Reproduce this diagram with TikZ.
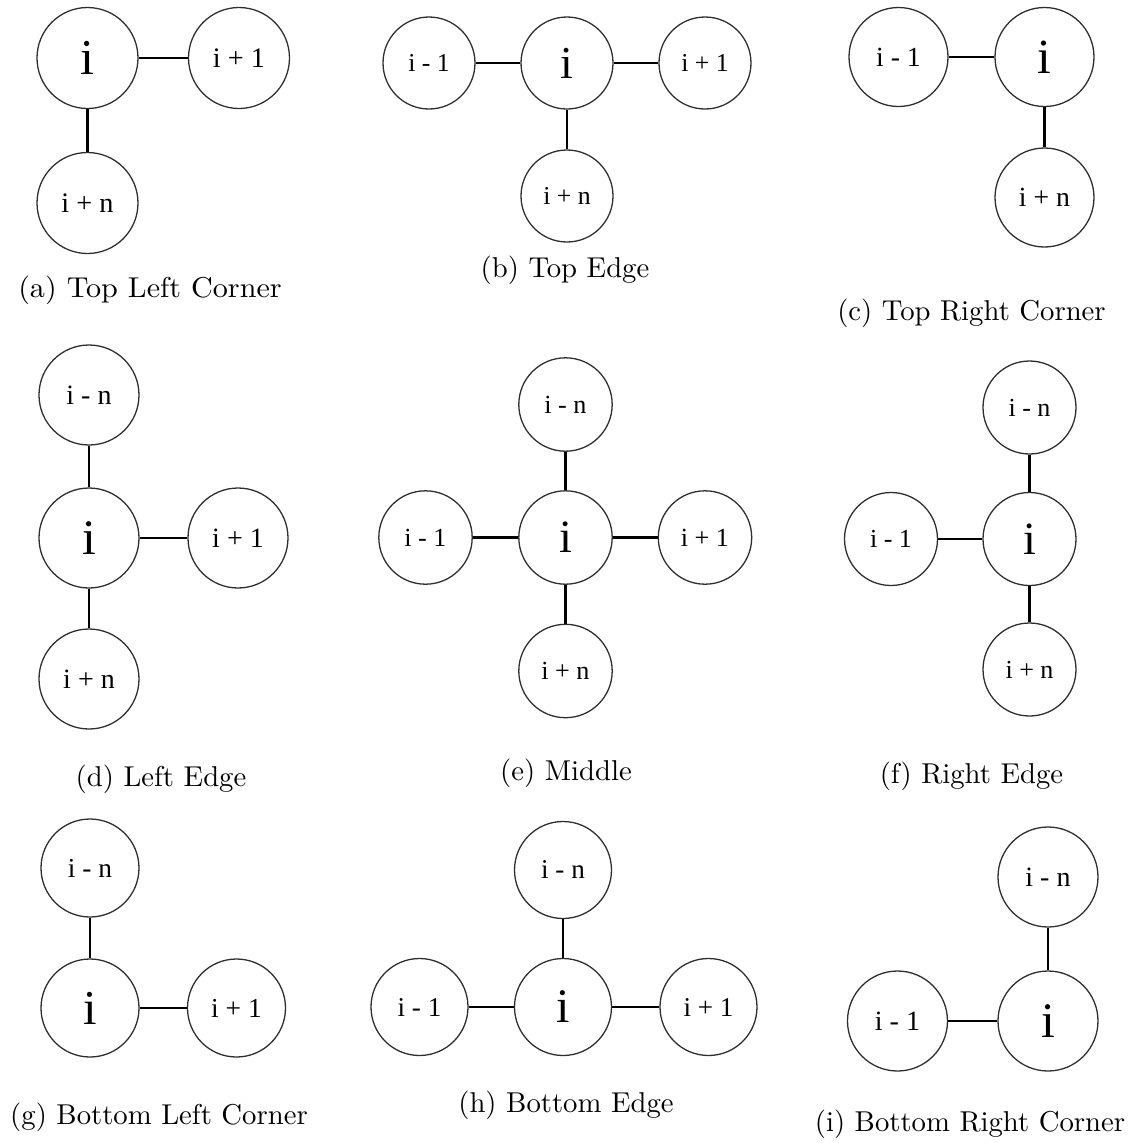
\documentclass[tikz,border=0pt]{standalone}
\usepackage{fontspec}
\newfontfamily\lblfamily{Liberation Serif}

% label fonts scale with the circle radius \rr (in px units)
\newcommand\smallf{\pgfmathsetmacro\fs{0.195*\rr}\lblfamily\fontsize{\fs pt}{\fs pt}\selectfont}
\newcommand\bigf{\pgfmathsetmacro\fs{0.346*\rr}\lblfamily\fontsize{\fs pt}{\fs pt}\selectfont}

\definecolor{circline}{HTML}{2E2E2E}

\tikzset{
  nd/.style={circle, draw=circline, line width=0.45pt, inner sep=0pt,
             minimum size={0.6968pt*\rr}, font=\smallf},
  ctr/.style={nd, font=\bigf},
  link/.style={draw=black, line width=0.85pt},
  subcap/.style={anchor=base, inner sep=0pt, font=\fontsize{10pt}{12pt}\selectfont}
}

\begin{document}
\begin{tikzpicture}[x=0.3484pt, y=-0.3484pt]
\useasboundingbox (0,0) rectangle (1142,1143);

% (a) top left corner
\begin{scope}
\def\rr{50.5}
\node[ctr] (a0) at (87.5,58) {i};
\node[nd] (ar) at (239,58) {i + 1};
\node[nd] (ad) at (87.5,203) {i + n};
\draw[link] (a0) -- (ar);
\draw[link] (a0) -- (ad);
\node[subcap, xscale=1.05] (acap) at (150,297) {(a) Top Left Corner};
\end{scope}

% (b) top edge
\begin{scope}
\def\rr{46}
\node[ctr] (b0) at (567,63) {i};
\node[nd] (bl) at (429,63) {i - 1};
\node[nd] (br) at (705,63) {i + 1};
\node[nd] (bd) at (567,196) {i + n};
\draw[link] (bl) -- (b0);
\draw[link] (b0) -- (br);
\draw[link] (b0) -- (bd);
\node[subcap] (bcap) at (565,277) {(b) Top Edge};
\end{scope}

% (c) top right corner
\begin{scope}
\def\rr{49.5}
\node[ctr] (c0) at (1044.5,57) {i};
\node[nd] (cl) at (898.5,57) {i - 1};
\node[nd] (cd) at (1044.5,197.5) {i + n};
\draw[link] (cl) -- (c0);
\draw[link] (c0) -- (cd);
\node[subcap] (ccap) at (971.5,320) {(c) Top Right Corner};
\end{scope}

% (d) left edge
\begin{scope}
\def\rr{50}
\node[ctr] (d0) at (89,538) {i};
\node[nd] (du) at (89,395) {i - n};
\node[nd] (dr) at (238,538) {i + 1};
\node[nd] (dd) at (89,679) {i + n};
\draw[link] (du) -- (d0);
\draw[link] (d0) -- (dr);
\draw[link] (d0) -- (dd);
\node[subcap] (dcap) at (161,786) {(d) Left Edge};
\end{scope}

% (e) middle
\begin{scope}
\def\rr{46.7}
\node[ctr] (e0) at (565.5,537.5) {i};
\node[nd] (eu) at (565.5,404.5) {i - n};
\node[nd] (el) at (425.5,537.5) {i - 1};
\node[nd] (er) at (705,537.5) {i + 1};
\node[nd] (ed) at (565.5,671) {i + n};
\draw[link] (eu) -- (e0);
\draw[link] (el) -- (e0);
\draw[link] (e0) -- (er);
\draw[link] (e0) -- (ed);
\node[subcap] (ecap) at (566,780) {(e) Middle};
\end{scope}

% (f) right edge
\begin{scope}
\def\rr{46.5}
\node[ctr] (f0) at (1029.5,539) {i};
\node[nd] (fu) at (1029.5,407.5) {i - n};
\node[nd] (fl) at (891,539) {i - 1};
\node[nd] (fd) at (1029.5,669.5) {i + n};
\draw[link] (fu) -- (f0);
\draw[link] (fl) -- (f0);
\draw[link] (f0) -- (fd);
\node[subcap] (fcap) at (971.5,783) {(f) Right Edge};
\end{scope}

% (g) bottom left corner
\begin{scope}
\def\rr{49}
\node[ctr] (g0) at (90,1008) {i};
\node[nd] (gu) at (90,868) {i - n};
\node[nd] (gr) at (236.5,1008) {i + 1};
\draw[link] (gu) -- (g0);
\draw[link] (g0) -- (gr);
\node[subcap] (gcap) at (159,1124) {(g) Bottom Left Corner};
\end{scope}

% (h) bottom edge
\begin{scope}
\def\rr{48.5}
\node[ctr] (h0) at (563,1007) {i};
\node[nd] (hu) at (563,870) {i - n};
\node[nd] (hl) at (419.5,1007) {i - 1};
\node[nd] (hr) at (708.5,1007) {i + 1};
\draw[link] (hu) -- (h0);
\draw[link] (hl) -- (h0);
\draw[link] (h0) -- (hr);
\node[subcap] (hcap) at (566,1112) {(h) Bottom Edge};
\end{scope}

% (i) bottom right corner
\begin{scope}
\def\rr{50}
\node[ctr] (i0) at (1048,1021) {i};
\node[nd] (iu) at (1048,877) {i - n};
\node[nd] (il) at (897.5,1021) {i - 1};
\draw[link] (iu) -- (i0);
\draw[link] (il) -- (i0);
\node[subcap] (icap) at (970,1131) {(i) Bottom Right Corner};
\end{scope}

\end{tikzpicture}
\end{document}
